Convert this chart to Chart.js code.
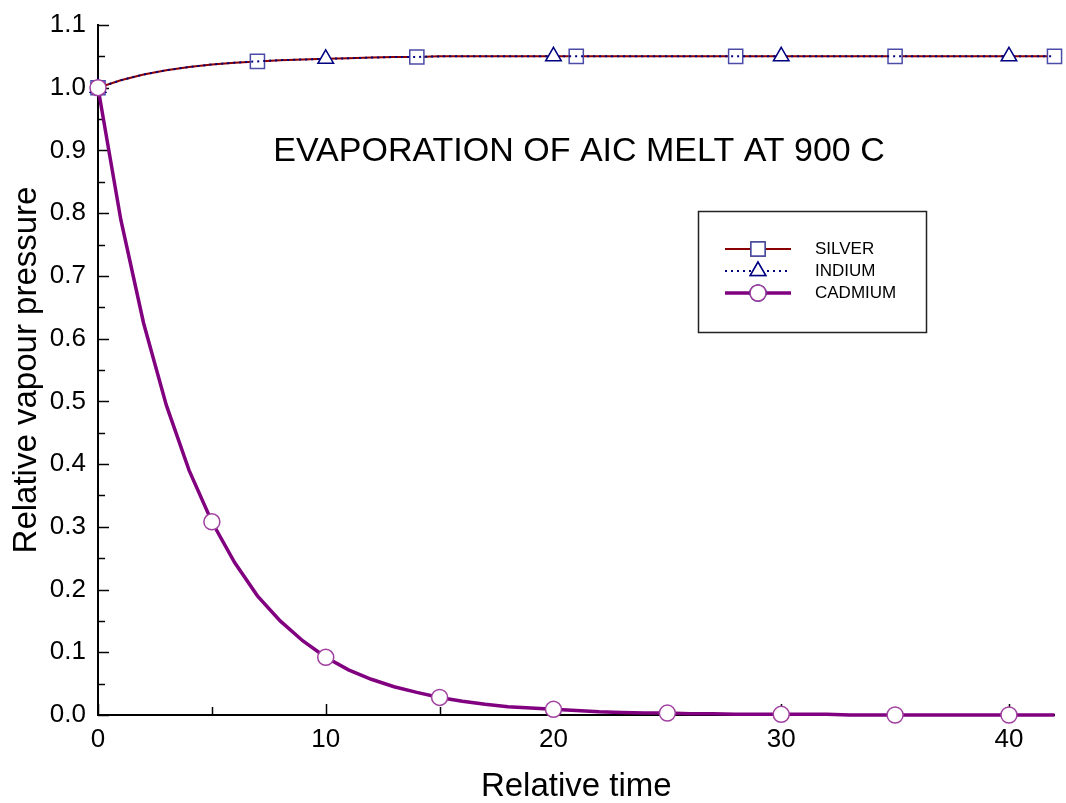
<!DOCTYPE html>
<html>
<head>
<meta charset="utf-8">
<script src="https://cdn.jsdelivr.net/npm/chart.js@4/dist/chart.umd.min.js"></script>
<style>
  html, body { margin: 0; padding: 0; background: #fff; }
  #wrap { width: 1066px; height: 803px; }
</style>
</head>
<body>
<div id="wrap"><canvas id="evap-chart"></canvas></div>
<script>
// relative time steps
const timeSteps = [0,1,2,3,4,5,6,7,8,9,10,11,12,13,14,15,16,17,18,19,20,
  21,22,23,24,25,26,27,28,29,30,31,32,33,34,35,36,37,38,39,40,41,42]

// relative vapour pressure
const silverPressure = [1.000,1.012,1.021,1.028,1.033,1.037,1.040,1.042,1.044,1.045,1.046,
  1.047,1.048,1.049,1.049,1.050,1.050,1.050,1.050,1.050,1.050,1.050,1.050,1.050,1.050,
  1.050,1.050,1.050,1.050,1.050,1.050,1.050,1.050,1.050,1.050,1.050,1.050,1.050,1.050,
  1.050,1.050,1.050,1.050]
const indiumPressure = [1.000,1.012,1.021,1.028,1.033,1.037,1.040,1.042,1.044,1.045,1.046,
  1.047,1.048,1.049,1.049,1.050,1.050,1.050,1.050,1.050,1.050,1.050,1.050,1.050,1.050,
  1.050,1.050,1.050,1.050,1.050,1.050,1.050,1.050,1.050,1.050,1.050,1.050,1.050,1.050,
  1.050,1.050,1.050,1.050]
const cadmiumPressure = [1.000,0.790,0.625,0.494,0.390,0.308,0.243,0.190,0.150,0.118,0.092,
  0.072,0.057,0.045,0.036,0.028,0.022,0.017,0.013,0.011,0.009,0.007,0.005,0.004,0.003,
  0.003,0.002,0.002,0.001,0.001,0.001,0.001,0.001,0.000,0.000,0.000,0.000,0.000,0.000,
  0.000,0.000,0.000,0.000]

const seriesNames = ['SILVER', 'INDIUM', 'CADMIUM']
const chartTitle = 'EVAPORATION OF AIC MELT AT 900 C'
const xTitle = 'Relative time'
const yTitle = 'Relative vapour pressure'

const COLORS = {
  silver: "#8b0000",
  square: "#4b4ba8",
  indium: "#000080",
  cadmium: "#800080",
  circle: "#a040a0"
}
const FONT = "'Liberation Sans', Arial, sans-serif"

const toPoints = (ys) => timeSteps.map((t, i) => ({x: t, y: ys[i]}))
const everyN = (n, r) => (c) => (c.dataIndex % n === 0 ? r : 0)

const datasets = [
  {
    label: seriesNames[2],
    data: toPoints(cadmiumPressure),
    borderColor: COLORS.cadmium,
    borderWidth: 3.5,
    pointStyle: 'circle',
    pointRadius: everyN(5, 8),
    pointBackgroundColor: '#fff',
    pointBorderColor: COLORS.circle,
    pointBorderWidth: 1.5,
    order: 0
  },
  {
    label: seriesNames[1],
    data: toPoints(indiumPressure),
    borderColor: COLORS.indium,
    borderWidth: 2,
    borderDash: [2, 4],
    pointStyle: 'triangle',
    pointRadius: everyN(10, 9),
    pointBackgroundColor: '#fff',
    pointBorderColor: COLORS.indium,
    pointBorderWidth: 1.5,
    order: 1
  },
  {
    label: seriesNames[0],
    data: toPoints(silverPressure),
    borderColor: COLORS.silver,
    borderWidth: 2,
    pointStyle: 'rect',
    pointRadius: everyN(7, 10),
    pointBackgroundColor: '#fff',
    pointBorderColor: COLORS.square,
    pointBorderWidth: 1.5,
    order: 2
  }
]

// inward major and minor ticks
const innerTicks = {
  id: 'innerTicks',
  beforeDatasetsDraw(chart) {
    const {ctx, scales: {x, y}} = chart
    ctx.save()
    ctx.strokeStyle = '#000'
    ctx.lineWidth = 1.5
    for (let v = 0; v <= 1.1001; v += 0.05) {
      const major = Math.round(v * 20) % 2 === 0
      const py = Math.round(y.getPixelForValue(v)) + 0.5
      ctx.beginPath()
      ctx.moveTo(x.left, py)
      ctx.lineTo(x.left + (major ? 11 : 7), py)
      ctx.stroke()
    }
    for (let v = 0; v <= 42; v += 5) {
      const major = v % 10 === 0
      const px = Math.round(x.getPixelForValue(v)) + 0.5
      ctx.beginPath()
      ctx.moveTo(px, y.bottom)
      ctx.lineTo(px, y.bottom - (major ? 11 : 8))
      ctx.stroke()
    }
    ctx.restore()
  }
}

// title text and boxed legend inside the plot
const plotNotes = {
  id: 'plotNotes',
  afterDraw(chart) {
    const {ctx} = chart
    ctx.save()
    ctx.fillStyle = '#000'
    ctx.font = '34px ' + FONT
    ctx.textAlign = 'center'
    ctx.textBaseline = 'middle'
    ctx.fillText(chartTitle, 579, 152)

    ctx.strokeStyle = '#222'
    ctx.lineWidth = 1.5
    ctx.strokeRect(698.5, 211.5, 228, 121)

    seriesNames.forEach((name, k) => {
      const ds = chart.data.datasets.find(d => d.label === name)
      const ly = 249 + k * 22
      ctx.save()
      ctx.strokeStyle = ds.borderColor
      ctx.lineWidth = ds.borderWidth
      ctx.setLineDash(ds.borderDash || [])
      ctx.beginPath()
      ctx.moveTo(725, ly)
      ctx.lineTo(791, ly)
      ctx.stroke()
      ctx.restore()
      Chart.helpers.drawPoint(ctx, {
        pointStyle: ds.pointStyle,
        radius: ds.pointStyle === 'circle' ? 8 : (ds.pointStyle === 'rect' ? 10 : 9),
        rotation: 0,
        borderWidth: 1.5
      }, 758, ly)
      ctx.fillStyle = '#fff'
      ctx.strokeStyle = ds.pointBorderColor
      ctx.lineWidth = 1.5
      ctx.fill()
      ctx.stroke()
      ctx.fillStyle = '#000'
      ctx.font = '17px ' + FONT
      ctx.textAlign = 'left'
      ctx.fillText(name, 815, ly)
    })
    ctx.restore()
  }
}

const ctx = document.getElementById("evap-chart")

const config = {
  type: 'line',
  data: { datasets: datasets },
  options: {
    responsive: true,
    maintainAspectRatio: false,
    animation: false,
    layout: { padding: { top: 25, right: 3, left: 0, bottom: 0 } },
    plugins: {
      legend: { display: false },
      tooltip: { enabled: false }
    },
    elements: { line: { tension: 0 } },
    datasets: { line: { clip: false } },
    scales: {
      x: {
        type: 'linear',
        min: 0,
        max: 42,
        afterFit: (s) => { s.height = 88; s.paddingLeft = 0; s.paddingRight = 0 },
        ticks: {
          stepSize: 10,
          includeBounds: false,
          color: '#000',
          font: { family: FONT, size: 26 },
          padding: 9,
          maxRotation: 0
        },
        grid: { display: false, drawTicks: false },
        border: { display: true, color: '#000', width: 2 },
        title: {
          display: true,
          text: xTitle,
          color: '#000',
          font: { family: FONT, size: 33, lineHeight: 1 },
          padding: { top: 0, bottom: 0 }
        }
      },
      y: {
        min: 0,
        max: 1.1,
        afterFit: (s) => { s.width = 98; s.paddingTop = 0; s.paddingBottom = 0 },
        ticks: {
          stepSize: 0.1,
          color: '#000',
          font: { family: FONT, size: 26 },
          padding: 12,
          callback: (v) => Number(v).toFixed(1)
        },
        grid: { display: false, drawTicks: false },
        border: { display: true, color: '#000', width: 2 },
        title: {
          display: true,
          text: yTitle,
          color: '#000',
          font: { family: FONT, size: 33 },
          padding: { top: 7, bottom: 0 }
        }
      }
    }
  },
  plugins: [innerTicks, plotNotes]
}

new Chart(ctx, config)
</script>
</body>
</html>
